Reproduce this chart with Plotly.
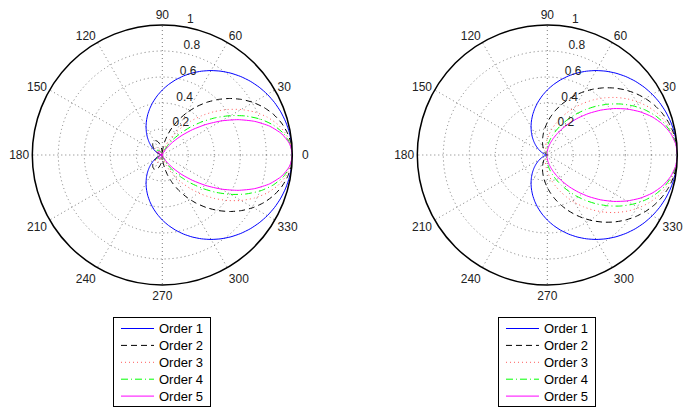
import plotly.graph_objects as go

# Angles (degrees) for the half-pattern 0..180; patterns are symmetric about 0 deg
angles_deg = [0, 5, 10, 15, 20, 25, 30, 35, 40, 45, 50, 55, 60, 65, 70, 75, 80, 85, 90,
              95, 100, 105, 110, 115, 120, 125, 130, 135, 140, 145, 150, 155, 160, 165,
              170, 175, 180]

# Order 1 (same in both panels)
order1 = [1.0, 0.9981, 0.9924, 0.98296, 0.96985, 0.95315, 0.93301, 0.90958, 0.88302,
          0.85355, 0.82139, 0.78679, 0.75, 0.71131, 0.67101, 0.62941, 0.58683, 0.54358,
          0.5, 0.45642, 0.41318, 0.37059, 0.32899, 0.28869, 0.25, 0.21321, 0.17861,
          0.14645, 0.11698, 0.09042, 0.06699, 0.04685, 0.03015, 0.01704, 0.0076, 0.0019, 0.0]

# Left panel, orders 2..5 (with small rear lobes)
left_order2 = [1.0, 0.9943, 0.97733, 0.94947, 0.91136, 0.86385, 0.80801, 0.74508, 0.67643,
               0.60355, 0.52798, 0.45129, 0.375, 0.30061, 0.2295, 0.1629, 0.1019, 0.04738,
               0.0, 0.03978, 0.07175, 0.09592, 0.11252, 0.12201, 0.125, 0.12229, 0.11481,
               0.10356, 0.08961, 0.07407, 0.05802, 0.04246, 0.02833, 0.01646, 0.00748,
               0.00189, 0.0]
left_order3 = [1.0, 0.99051, 0.96248, 0.91712, 0.8564, 0.78292, 0.69976, 0.61033, 0.51817,
               0.42678, 0.33938, 0.25885, 0.1875, 0.12704, 0.07849, 0.04216, 0.0177, 0.00413,
               0.0, 0.00347, 0.01246, 0.02483, 0.03848, 0.05156, 0.0625, 0.07014, 0.0738,
               0.07323, 0.06865, 0.06067, 0.05025, 0.03848, 0.02662, 0.0159, 0.00737,
               0.00188, 0.0]
left_order4 = [1.0, 0.98674, 0.94786, 0.88587, 0.80475, 0.70957, 0.60601, 0.49995, 0.39694,
               0.30178, 0.21815, 0.14847, 0.09375, 0.05369, 0.02685, 0.01091, 0.00307, 0.00036,
               0.0, 0.0003, 0.00216, 0.00643, 0.01316, 0.02179, 0.03125, 0.04023, 0.04744,
               0.05178, 0.05259, 0.0497, 0.04352, 0.03487, 0.02501, 0.01536, 0.00726,
               0.00187, 0.0]
left_order5 = [1.0, 0.98298, 0.93346, 0.85569, 0.75622, 0.64309, 0.52482, 0.40953, 0.30407,
               0.21339, 0.14022, 0.08516, 0.046875, 0.02269, 0.00918, 0.00282, 0.00053, 0.00003,
               0.0, 0.00003, 0.00038, 0.00166, 0.0045, 0.00921, 0.015625, 0.02307, 0.03049,
               0.03661, 0.04029, 0.04071, 0.03769, 0.0316, 0.0235, 0.01484, 0.00715,
               0.00186, 0.0]

# Right panel, orders 2..5
right_order2 = [1.0, 0.9962, 0.98486, 0.96621, 0.94061, 0.9085, 0.87051, 0.82734, 0.77972,
                0.72855, 0.67468, 0.61904, 0.5625, 0.50596, 0.45025, 0.39616, 0.34437,
                0.29548, 0.25, 0.20832, 0.17072, 0.13734, 0.10823, 0.08334, 0.0625, 0.04546,
                0.0319, 0.02145, 0.01368, 0.00818, 0.00449, 0.00219, 0.00091, 0.00029,
                0.00006, 0.0, 0.0]
right_order3 = [1.0, 0.99431, 0.97738, 0.94975, 0.91225, 0.86594, 0.8122, 0.75253, 0.68851,
                0.62186, 0.55418, 0.48706, 0.42188, 0.3599, 0.30212, 0.24935, 0.20209,
                0.16062, 0.125, 0.09508, 0.07054, 0.0509, 0.03561, 0.02406, 0.015625, 0.00969,
                0.0057, 0.00314, 0.0016, 0.00074, 0.0003, 0.0001, 0.00003, 0.0, 0.0, 0.0, 0.0]
right_order4 = [1.0, 0.99241, 0.96995, 0.93356, 0.88475, 0.82537, 0.75779, 0.68449, 0.60796,
                0.53079, 0.45519, 0.38321, 0.31641, 0.256, 0.20273, 0.15694, 0.11859,
                0.08731, 0.0625, 0.0434, 0.02915, 0.01886, 0.01171, 0.00695, 0.00391, 0.00207,
                0.00102, 0.00046, 0.00019, 0.00007, 0.00002, 0.0, 0.0, 0.0, 0.0, 0.0, 0.0]
right_order5 = [1.0, 0.99052, 0.96258, 0.91765, 0.85808, 0.7867, 0.70703, 0.6226, 0.53684,
                0.45306, 0.37389, 0.30151, 0.23731, 0.1821, 0.13603, 0.09878, 0.06959,
                0.04746, 0.03125, 0.01981, 0.01204, 0.00699, 0.00385, 0.00201, 0.00098,
                0.00044, 0.00018, 0.00007, 0.00002, 0.0, 0.0, 0.0, 0.0, 0.0, 0.0, 0.0, 0.0]

series_names = ["Order 1", "Order 2", "Order 3", "Order 4", "Order 5"]
angle_ticks = [0, 30, 60, 90, 120, 150, 180, 210, 240, 270, 300, 330]
angle_labels = ["0", "30", "60", "90", "120", "150", "180", "210", "240", "270", "300", "330"]
radial_ticks = [0.2, 0.4, 0.6, 0.8, 1.0]
radial_labels = ["0.2", "0.4", "0.6", "0.8", "1"]

colors = ["#0000ff", "#000000", "#ff5a5a", "#00ff00", "#ff00ff"]
dashes = ["solid", "6px,4px", "1px,3px", "7px,3px,1px,3px", "solid"]

W, H = 687, 408
R = 130.0
cy = 155.0
centers_x = [162.3, 547.3]
FONT = "Arial"
NBSP = "\u00a0"


def full_circle(r_half):
    th = angles_deg + [360 - a for a in reversed(angles_deg[:-1])]
    rr = r_half + list(reversed(r_half[:-1]))
    return th, rr


fig = go.Figure()

panels = [
    ("polar", [order1, left_order2, left_order3, left_order4, left_order5]),
    ("polar2", [order1, right_order2, right_order3, right_order4, right_order5]),
]

for subplot, data in panels:
    for name, r_half, col, dash in zip(series_names, data, colors, dashes):
        th, rr = full_circle(r_half)
        fig.add_trace(go.Scatterpolar(
            r=rr, theta=th, mode="lines", name=name, subplot=subplot, showlegend=False,
            line=dict(color=col, width=1, dash=dash, shape="spline", smoothing=0.6),
            hoverinfo="skip",
        ))
    # radial tick labels placed along an 82-degree spoke
    fig.add_trace(go.Scatterpolar(
        r=radial_ticks, theta=[82] * len(radial_ticks), mode="text",
        text=[NBSP * 2 + t for t in radial_labels],
        textposition="top right", subplot=subplot, showlegend=False, cliponaxis=False,
        textfont=dict(family=FONT, size=12, color="#222222"), hoverinfo="skip",
    ))

# left panel: push the short "0" label a little further out like the reference;
# right panel: the "0" label falls outside the figure in the reference, so it is not shown
angle_text_left = [(NBSP * 2 + t) if t == "0" else t for t in angle_labels]
angle_text_right = ["" if t == "0" else t for t in angle_labels]


def polar_layout(cx, ticktext):
    return dict(
        domain=dict(x=[(cx - R) / W, (cx + R) / W], y=[(H - cy - R) / H, (H - cy + R) / H]),
        bgcolor="white",
        radialaxis=dict(range=[0, 1], tickvals=radial_ticks, showticklabels=False, ticks="",
                        showline=False, gridcolor="#7a7a7a", griddash="1px,3px", gridwidth=1),
        angularaxis=dict(rotation=0, direction="counterclockwise", tickmode="array",
                         tickvals=angle_ticks, ticktext=ticktext, ticks="",
                         showline=True, linecolor="black", linewidth=1.5,
                         gridcolor="#7a7a7a", griddash="1px,3px", gridwidth=1,
                         tickfont=dict(family=FONT, size=12, color="#222222")),
    )


# Legend boxes (one under each panel), drawn in small helper axes in pixel units
box_w, box_h = 95.7, 88.3
box_top = 317.7
box_lefts = [114.3, 499.3]
row_first, row_step = 10.8, 16.9
sample_x0, sample_x1, text_x = 6.7, 39.7, 43.0

annotations = []
layout_axes = {}
for k, bl in enumerate(box_lefts):
    xa = "x" if k == 0 else "x2"
    ya = "y" if k == 0 else "y2"
    for i, (name, col, dash) in enumerate(zip(series_names, colors, dashes)):
        yy = row_first + row_step * i
        fig.add_trace(go.Scatter(
            x=[sample_x0, sample_x1], y=[yy, yy], mode="lines", xaxis=xa, yaxis=ya,
            line=dict(color=col, width=1, dash=dash), showlegend=False, hoverinfo="skip",
        ))
        annotations.append(dict(
            x=text_x, y=yy, xref=xa, yref=ya, text=name, showarrow=False,
            xanchor="left", yanchor="middle", font=dict(family=FONT, size=13, color="black"),
        ))
    axis_common = dict(showgrid=False, zeroline=False, showticklabels=False, ticks="",
                       showline=True, mirror=True, linecolor="black", linewidth=1,
                       fixedrange=True)
    layout_axes["xaxis" if k == 0 else "xaxis2"] = dict(
        domain=[bl / W, (bl + box_w) / W], range=[0, box_w],
        anchor=ya, **axis_common)
    layout_axes["yaxis" if k == 0 else "yaxis2"] = dict(
        domain=[1 - (box_top + box_h) / H, 1 - box_top / H], range=[box_h, 0],
        anchor=xa, **axis_common)

fig.update_layout(
    width=W, height=H, margin=dict(l=0, r=0, t=0, b=0),
    paper_bgcolor="white", plot_bgcolor="white", showlegend=False,
    polar=polar_layout(centers_x[0], angle_text_left),
    polar2=polar_layout(centers_x[1], angle_text_right),
    annotations=annotations,
    **layout_axes,
)

fig.write_html("out.html")
